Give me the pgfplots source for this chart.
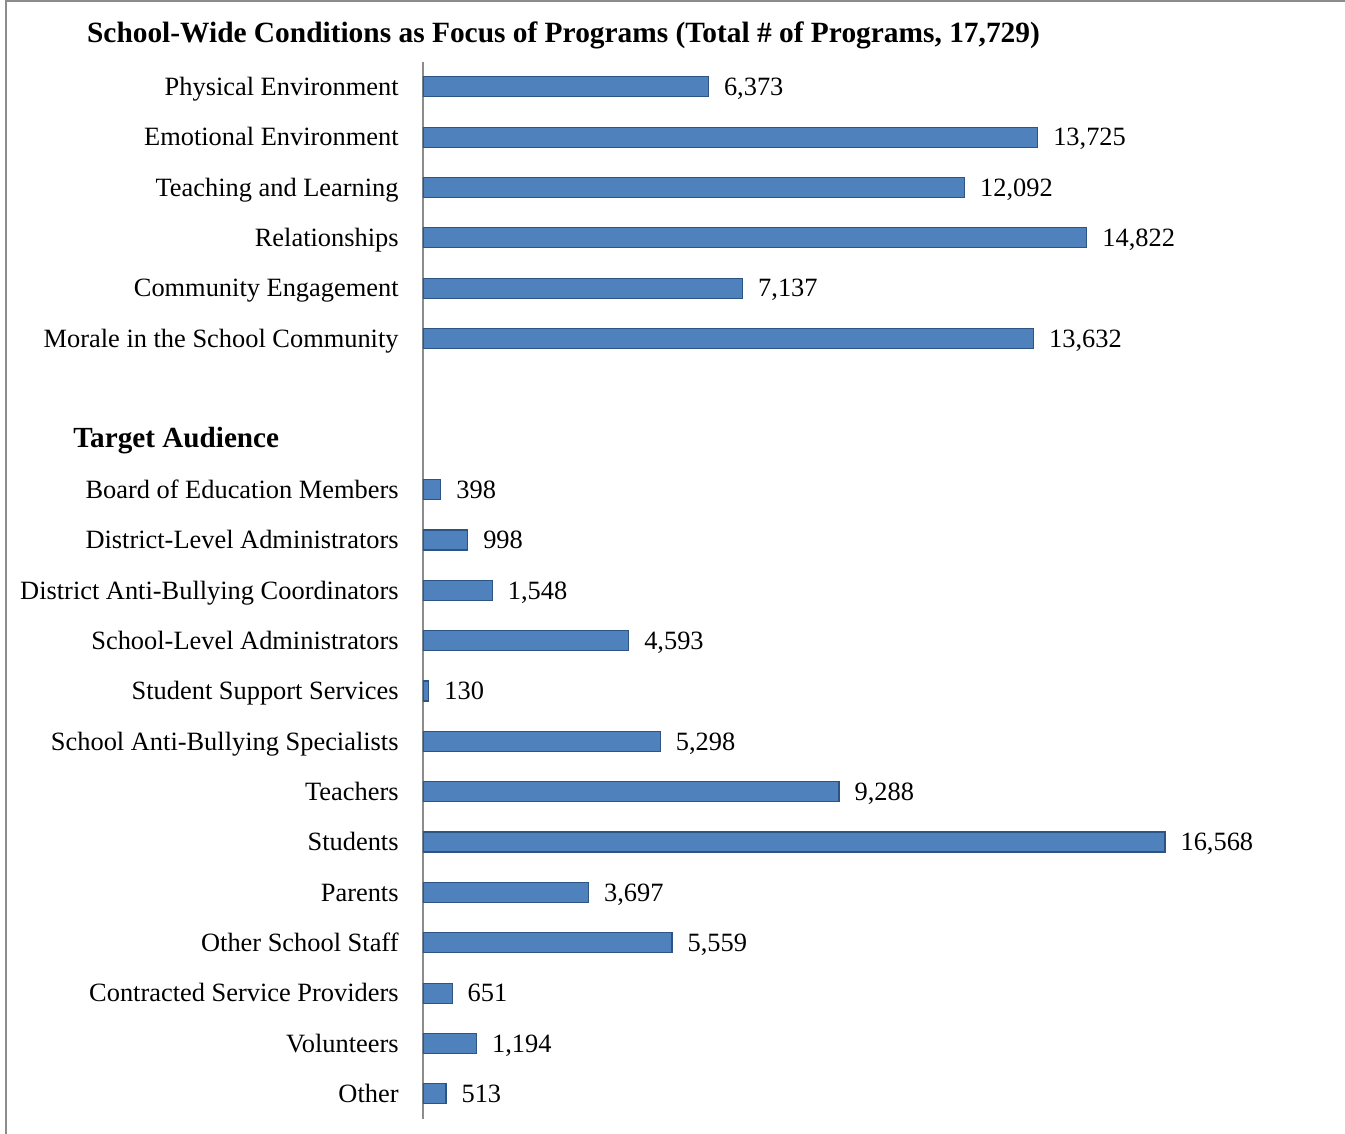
\documentclass[border=0pt]{standalone}
\usepackage{pgfplots}
\pgfplotsset{compat=1.18}
\usepackage{fontspec}
\setmainfont{Liberation Serif}
\definecolor{barfill}{HTML}{4F81BD}
\definecolor{barline}{HTML}{2C5585}
\definecolor{axgray}{HTML}{8C8C8C}
\begin{document}
\fontsize{13.2}{16}\selectfont
\begin{tikzpicture}
\begin{axis}[
  at={(0,0)}, anchor=south west,
  scale only axis,
  width=447.85pt, height=528.7pt,
  xbar, bar width=10pt,
  xmin=0, xmax=20000,
  ymin=-0.5, ymax=20.5,
  y dir=reverse,
  axis x line=none,
  axis y line*=left,
  y axis line style={draw=axgray, line width=0.8pt},
  major tick length=0pt,
  ytick={0,1,2,3,4,5,8,9,10,11,12,13,14,15,16,17,18,19,20},
  yticklabels={Physical Environment,Emotional Environment,Teaching and Learning,Relationships,Community Engagement,Morale in the School Community,Board of Education Members,District-Level Administrators,District Anti-Bullying Coordinators,School-Level Administrators,Student Support Services,School Anti-Bullying Specialists,Teachers,Students,Parents,Other School Staff,Contracted Service Providers,Volunteers,Other},
  yticklabel style={anchor=base east, inner sep=0pt, xshift=-12pt, yshift=-4.4pt},
  nodes near coords,
  every node near coord/.append style={anchor=base west, inner sep=0pt, xshift=7.5pt, yshift=-4.4pt, font=\fontsize{13.2}{16}\selectfont},
  /pgf/number format/.cd, 1000 sep={,}, assume math mode=true,
]
\addplot[fill=barfill, draw=barline, line width=0.6pt] coordinates {
  (6373,0) (13725,1) (12092,2) (14822,3) (7137,4) (13632,5)
  (398,8) (998,9) (1548,10) (4593,11) (130,12) (5298,13) (9288,14)
  (16568,15) (3697,16) (5559,17) (651,18) (1194,19) (513,20)
};
\end{axis}
\node[anchor=base, font=\fontsize{14.7}{17}\selectfont\bfseries] at (70.25pt,538pt) {School-Wide Conditions as Focus of Programs (Total \# of Programs, 17,729)};
\node[anchor=base west, font=\fontsize{14.6}{17}\selectfont\bfseries, inner sep=0pt] at (-175pt,335.5pt) {Target Audience};
\draw[axgray, line width=1pt] (-208.5pt,-7.5pt) -- (-208.5pt,559pt) -- (461pt,559pt);
\pgfresetboundingbox
\path[use as bounding box] (-211.5pt,-7.5pt) rectangle (461pt,559.5pt);
\end{tikzpicture}
\end{document}
